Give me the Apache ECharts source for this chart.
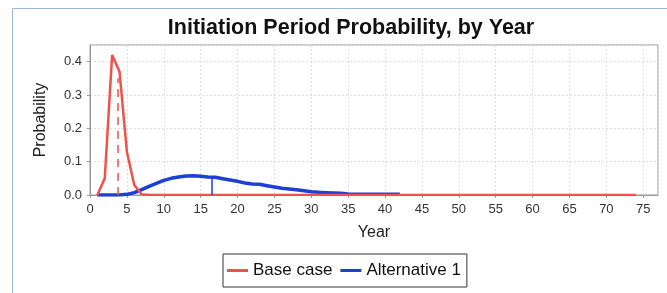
<!DOCTYPE html>
<html><head><meta charset="utf-8">
<script src="https://cdn.jsdelivr.net/npm/echarts@6/dist/echarts.min.js"></script>
<style>html,body{margin:0;padding:0;background:#fff}#c{width:667px;height:293px}</style>
</head><body><div id="c"></div>
<script>
const baseYears = [1,2,3,4,5,6,7,8,10,15,20,25,30,35,40,45,50,55,60,65,70,74];
const baseVals  = [0,0.05,0.42,0.37,0.13,0.03,0.002,0,0,0,0,0,0,0,0,0,0,0,0,0,0,0];
const altYears = [1,2,3,4,5,6,7,8,9,10,11,12,13,14,15,16,17,18,19,20,21,22,23,24,25,26,27,28,29,30,31,32,33,34,35,36,38,40,42];
const altVals  = [0,0,0,0,0.002,0.007,0.016,0.026,0.035,0.044,0.050,0.054,0.057,0.058,0.056,0.054,0.053,0.049,0.045,0.041,0.036,0.033,0.032,0.028,0.024,0.020,0.018,0.016,0.013,0.010,0.008,0.007,0.006,0.005,0.003,0.002,0.002,0.002,0.002];
const baseMean = 3.75, baseMeanVal = 0.35;
const altMean = 16.5, altMeanVal = 0.054;
const xTicks = {min:0, max:77, interval:5};
const yTicks = {min:0, max:0.45, interval:0.1};

const chart = echarts.init(document.getElementById('c'));
const font = 'Liberation Sans, Arial, sans-serif';
chart.setOption({
  animation:false,
  graphic:[{type:'rect', shape:{x:12.5,y:8.5,width:680,height:300}, style:{fill:'none', stroke:'#9db8dc', lineWidth:1}, silent:true}],
  title:{text:'Initiation Period Probability, by Year', left:346, top:12, textAlign:'center',
    textStyle:{fontFamily:font, fontSize:21.5, fontWeight:'bold', color:'#111'}},
  grid:{left:90, right:9, top:45, bottom:98, show:true, borderColor:'#999', borderWidth:1},
  legend:{data:['Base case','Alternative 1'], left:223, top:254, padding:[8,6,8,4], borderColor:'#333', borderWidth:1,
    icon:'rect', itemWidth:21, itemHeight:3, itemGap:8,
    textStyle:{fontFamily:font, fontSize:17, color:'#111'}},
  xAxis:{type:'value', min:xTicks.min, max:xTicks.max, interval:xTicks.interval, name:'Year', nameLocation:'middle', nameGap:30,
    nameTextStyle:{fontFamily:font, fontSize:16, color:'#222'},
    axisLine:{lineStyle:{color:'#999'}}, axisTick:{show:true, length:3, lineStyle:{color:'#999'}},
    axisLabel:{fontFamily:font, fontSize:13, color:'#333', showMaxLabel:false, margin:8},
    splitLine:{show:true, lineStyle:{color:'#ddd', type:[2,2]}}},
  yAxis:{type:'value', min:yTicks.min, max:yTicks.max, interval:yTicks.interval, name:'Probability', nameLocation:'middle', nameGap:41,
    nameTextStyle:{fontFamily:font, fontSize:16, color:'#222'},
    axisLine:{show:true, lineStyle:{color:'#999'}}, axisTick:{show:true, length:3, lineStyle:{color:'#999'}},
    axisLabel:{fontFamily:font, fontSize:13, color:'#333', formatter:v=>v.toFixed(1), showMaxLabel:false},
    splitLine:{show:true, lineStyle:{color:'#ddd', type:[2,2]}}},
  series:[
    {name:'Base case', type:'line', data:baseYears.map((x,i)=>[x,baseVals[i]]), symbol:'none', z:3,
      lineStyle:{color:'#f0514a', width:2.5}, itemStyle:{color:'#f0514a'},
      markLine:{silent:true, symbol:'none', label:{show:false}, lineStyle:{color:'#f0514a', type:[8,6], width:1.5},
        data:[[{coord:[baseMean,0]},{coord:[baseMean,baseMeanVal]}]]}},
    {name:'Alternative 1', type:'line', data:altYears.map((x,i)=>[x,altVals[i]]), symbol:'none', z:2,
      lineStyle:{color:'#1c3fd6', width:3.5}, itemStyle:{color:'#1c3fd6'},
      markLine:{silent:true, symbol:'none', label:{show:false}, lineStyle:{color:'#1c3fd6', type:'solid', width:1.5},
        data:[[{coord:[altMean,0]},{coord:[altMean,altMeanVal]}]]}}
  ]
});
</script></body></html>
